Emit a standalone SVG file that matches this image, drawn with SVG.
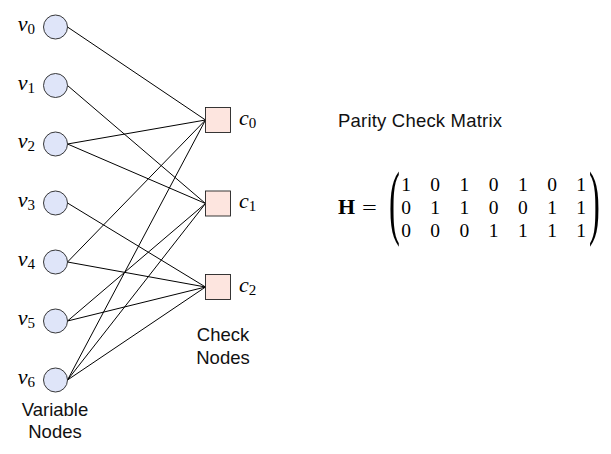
<svg xmlns="http://www.w3.org/2000/svg" width="611" height="454" viewBox="0 0 611 454">
<style>
.edge{stroke:#000;stroke-width:1;fill:none}
.vn{fill:#dfe5f9;stroke:#222;stroke-width:0.9}
.cn{fill:#fde5df;stroke:#222;stroke-width:0.9}
.m{font-family:"Liberation Serif","DejaVu Serif",serif;font-style:italic;font-size:22px;fill:#000}
.sub{font-style:normal;font-size:15px}
.s{font-family:"Liberation Sans",Arial,sans-serif;font-size:18.5px;fill:#111}
.d{font-family:"Liberation Serif","DejaVu Serif",serif;font-size:19.5px;fill:#000;text-anchor:middle}
.p{font-family:"Liberation Serif","DejaVu Serif",serif;font-size:81.5px;fill:#000}
</style>
<rect width="611" height="454" fill="#fff"/>
<g id="connectors">
<line class="edge" x1="67.5" y1="27" x2="205.5" y2="120"/>
<line class="edge" x1="67.5" y1="144" x2="205.5" y2="120"/>
<line class="edge" x1="67.5" y1="262" x2="205.5" y2="120"/>
<line class="edge" x1="67.5" y1="380" x2="205.5" y2="120"/>
<line class="edge" x1="67.5" y1="85.5" x2="205.5" y2="203.5"/>
<line class="edge" x1="67.5" y1="144" x2="205.5" y2="203.5"/>
<line class="edge" x1="67.5" y1="321" x2="205.5" y2="203.5"/>
<line class="edge" x1="67.5" y1="380" x2="205.5" y2="203.5"/>
<line class="edge" x1="67.5" y1="203" x2="205.5" y2="287"/>
<line class="edge" x1="67.5" y1="262" x2="205.5" y2="287"/>
<line class="edge" x1="67.5" y1="321" x2="205.5" y2="287"/>
<line class="edge" x1="67.5" y1="380" x2="205.5" y2="287"/>
</g>
<g id="v0"><circle class="vn" cx="55.5" cy="27" r="12"/><text class="m" x="35" y="31" text-anchor="end">v<tspan class="sub" dy="3">0</tspan></text></g>
<g id="v1"><circle class="vn" cx="55.5" cy="85.5" r="12"/><text class="m" x="35" y="89.5" text-anchor="end">v<tspan class="sub" dy="3">1</tspan></text></g>
<g id="v2"><circle class="vn" cx="55.5" cy="144" r="12"/><text class="m" x="35" y="148" text-anchor="end">v<tspan class="sub" dy="3">2</tspan></text></g>
<g id="v3"><circle class="vn" cx="55.5" cy="203" r="12"/><text class="m" x="35" y="207" text-anchor="end">v<tspan class="sub" dy="3">3</tspan></text></g>
<g id="v4"><circle class="vn" cx="55.5" cy="262" r="12"/><text class="m" x="35" y="266" text-anchor="end">v<tspan class="sub" dy="3">4</tspan></text></g>
<g id="v5"><circle class="vn" cx="55.5" cy="321" r="12"/><text class="m" x="35" y="325" text-anchor="end">v<tspan class="sub" dy="3">5</tspan></text></g>
<g id="v6"><circle class="vn" cx="55.5" cy="380" r="12"/><text class="m" x="35" y="384" text-anchor="end">v<tspan class="sub" dy="3">6</tspan></text></g>
<g id="c0"><rect class="cn" x="205.5" y="107.5" width="25" height="25"/><text class="m" x="239" y="124.5">c<tspan class="sub" dy="3">0</tspan></text></g>
<g id="c1"><rect class="cn" x="205.5" y="191" width="25" height="25"/><text class="m" x="239" y="208">c<tspan class="sub" dy="3">1</tspan></text></g>
<g id="c2"><rect class="cn" x="205.5" y="274.5" width="25" height="25"/><text class="m" x="239" y="291.5">c<tspan class="sub" dy="3">2</tspan></text></g>
<g id="labels">
<text class="s" x="223" y="341" text-anchor="middle">Check</text>
<text class="s" x="223" y="363.5" text-anchor="middle">Nodes</text>
<text class="s" x="55" y="416" text-anchor="middle">Variable</text>
<text class="s" x="55" y="438" text-anchor="middle">Nodes</text>
<text class="s" x="338" y="126.5" textLength="164">Parity Check Matrix</text>
</g>
<g id="matrix">
<text x="338" y="214" font-family="Liberation Serif, serif" font-weight="bold" font-size="22px">H</text>
<text transform="translate(362,214) scale(1.35,1)" font-family="Liberation Serif, serif" font-size="19.5px">=</text>
<text class="p" transform="translate(389,228.6) scale(0.4,1)">(</text>
<text class="p" transform="translate(589,228.6) scale(0.4,1)">)</text>
<text class="d" y="191"><tspan x="406">1</tspan><tspan x="435.2">0</tspan><tspan x="464.4">1</tspan><tspan x="493.6">0</tspan><tspan x="522.8">1</tspan><tspan x="552">0</tspan><tspan x="581.2">1</tspan></text>
<text class="d" y="214"><tspan x="406">0</tspan><tspan x="435.2">1</tspan><tspan x="464.4">1</tspan><tspan x="493.6">0</tspan><tspan x="522.8">0</tspan><tspan x="552">1</tspan><tspan x="581.2">1</tspan></text>
<text class="d" y="237"><tspan x="406">0</tspan><tspan x="435.2">0</tspan><tspan x="464.4">0</tspan><tspan x="493.6">1</tspan><tspan x="522.8">1</tspan><tspan x="552">1</tspan><tspan x="581.2">1</tspan></text>
</g>
</svg>
